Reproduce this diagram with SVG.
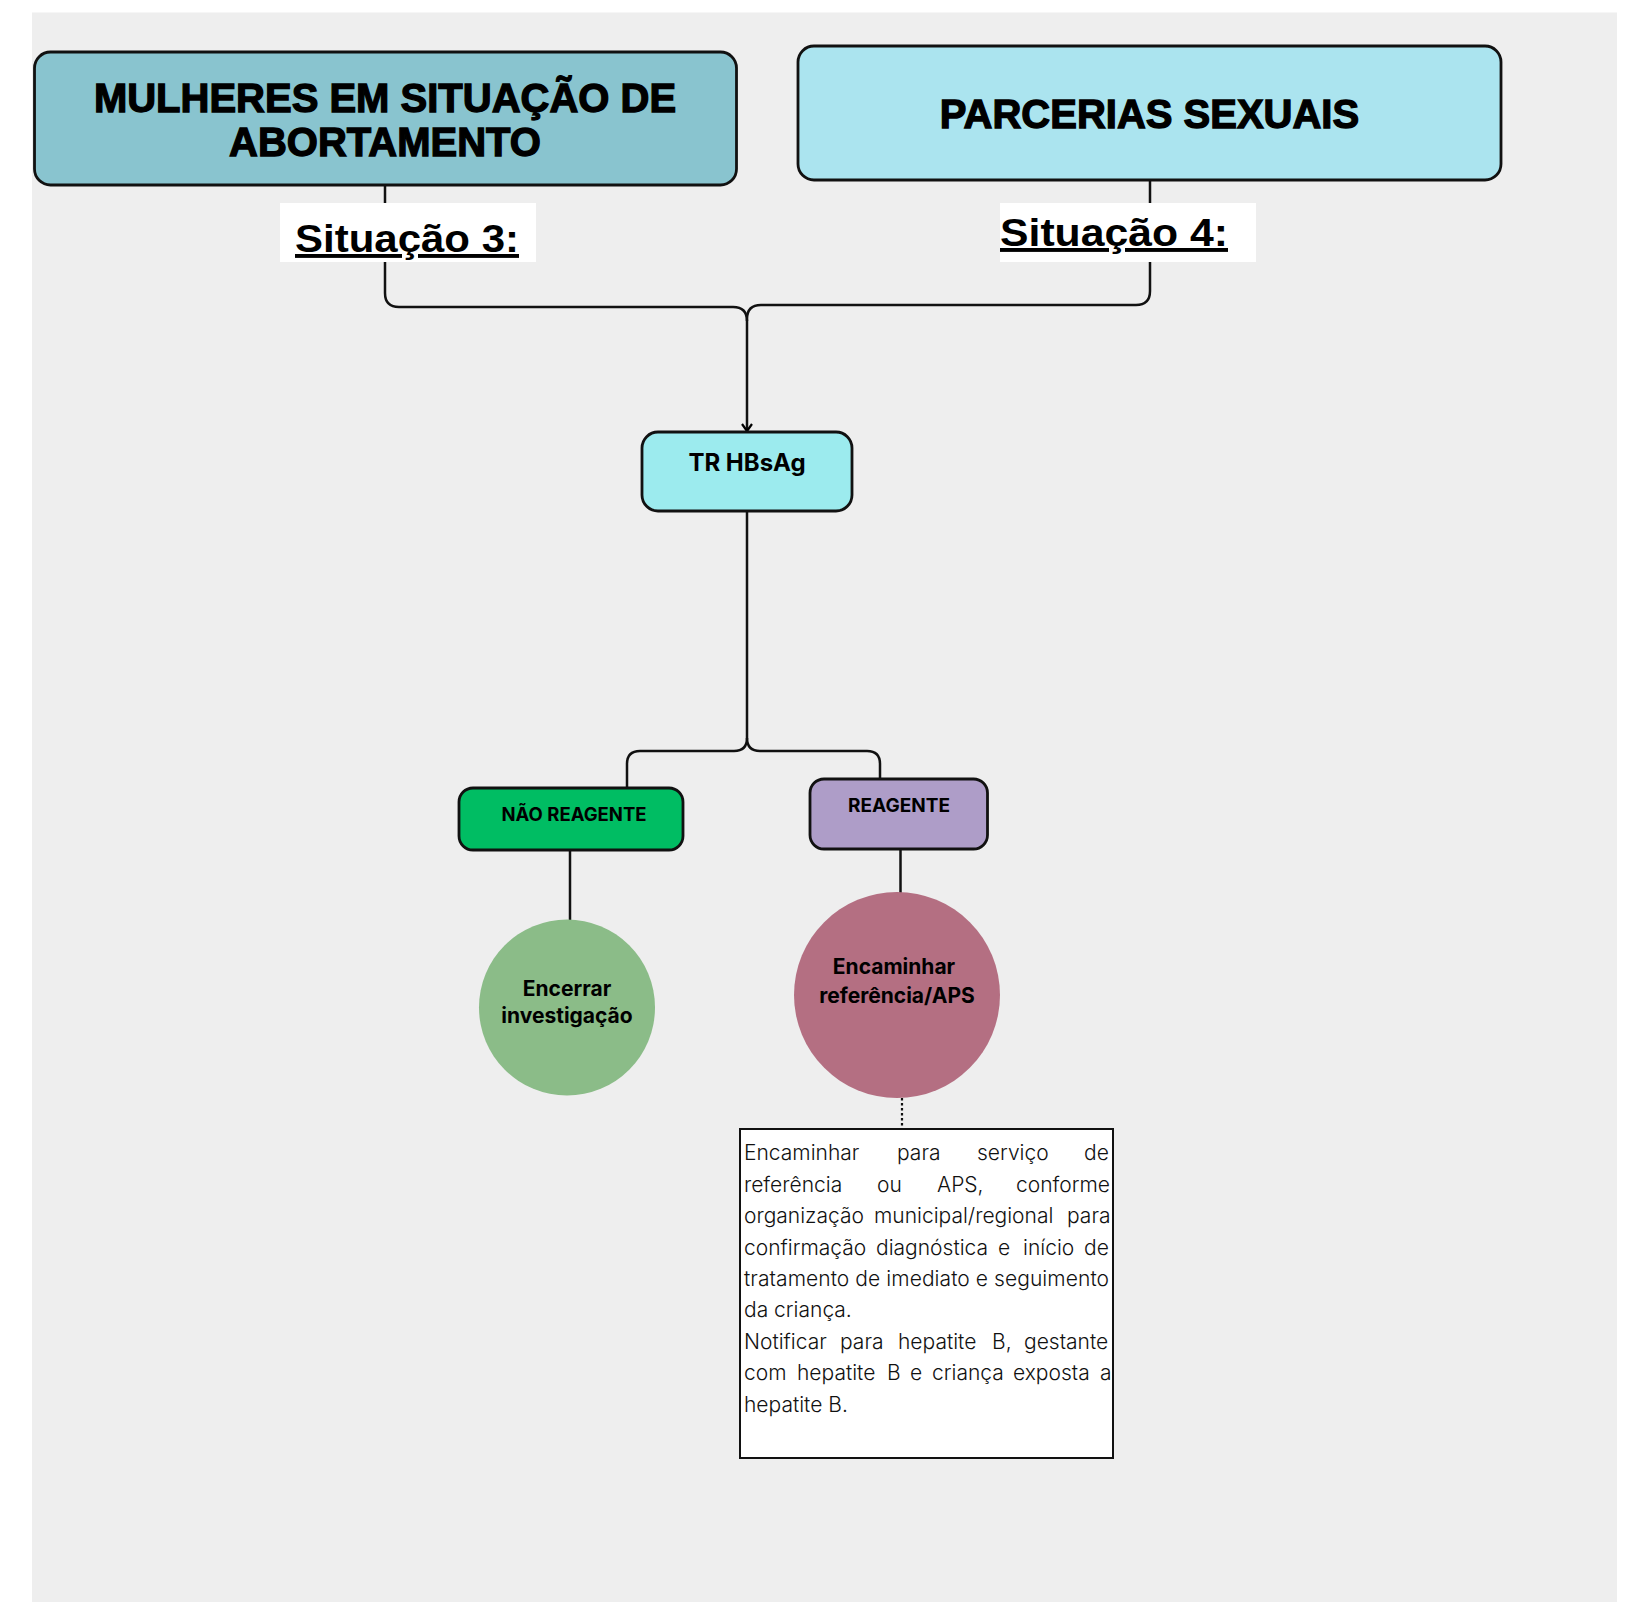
<svg xmlns="http://www.w3.org/2000/svg" width="1638" height="1602" viewBox="0 0 1638 1602">
  <defs>
    <marker id="arr" viewBox="0 0 12 12" refX="10" refY="6" markerWidth="12" markerHeight="12" markerUnits="userSpaceOnUse" orient="auto">
      <path d="M3,1 L10,6 L3,11" fill="none" stroke="#000" stroke-width="2.2"/>
    </marker>
    <style>
      .node{stroke:#111;stroke-width:2.8}
      .conn{fill:none;stroke:#111;stroke-width:2.5}
      .head{font-family:"Liberation Sans",Arial,sans-serif;font-weight:700;font-size:40px;fill:#000;stroke:#000;stroke-width:1.3;text-anchor:middle}
      .sit{font-family:"Liberation Sans",Arial,sans-serif;font-weight:700;font-size:39px;fill:#000;text-decoration:underline}
      .lbl{font-family:Inter,"Liberation Sans",sans-serif;font-weight:700;fill:#000;text-anchor:middle}
      .body{font-family:Inter,"Liberation Sans",sans-serif;font-weight:300;font-size:21px;fill:#111}
    </style>
  </defs>
  <rect x="0" y="0" width="1638" height="1602" fill="#ffffff"/>
  <rect x="32" y="12.5" width="1585" height="1590" fill="#eeeeee"/>

  <g id="connectors">
    <path class="conn" d="M385,185 V293 Q385,307 399,307 H733 Q747,307 747,321"/>
    <path class="conn" d="M1150,180 V291 Q1150,305 1136,305 H761 Q747,305 747,319"/>
    <path class="conn" d="M747,319 V431" marker-end="url(#arr)"/>
    <path class="conn" d="M747,511 V738 Q747,751 734,751 H640 Q627,751 627,764 V788"/>
    <path class="conn" d="M747,738 Q747,751 760,751 H867 Q880,751 880,764 V779"/>
    <path class="conn" d="M570,850 V920"/>
    <path class="conn" d="M900.5,849 V893"/>
    <path d="M902,1098 V1128" fill="none" stroke="#111" stroke-width="2.2" stroke-dasharray="2.5,2.5"/>
  </g>

  <g id="mulheres">
    <rect class="node" x="34.5" y="52" width="702" height="133" rx="16" fill="#89c4cf"/>
    <text class="head" x="385" y="112">MULHERES EM SITUAÇÃO DE</text>
    <text class="head" x="385" y="156">ABORTAMENTO</text>
  </g>

  <g id="parcerias">
    <rect class="node" x="798" y="46" width="703" height="134" rx="16" fill="#abe4ef"/>
    <text class="head" x="1149.5" y="128">PARCERIAS SEXUAIS</text>
  </g>

  <g id="situacao3">
    <rect x="280" y="203" width="256" height="59" fill="#ffffff"/>
    <text class="sit" x="295" y="252" textLength="224" lengthAdjust="spacingAndGlyphs">Situação 3:</text>
  </g>

  <g id="situacao4">
    <rect x="1000" y="203" width="256" height="59" fill="#ffffff"/>
    <text class="sit" x="1000" y="246" textLength="228" lengthAdjust="spacingAndGlyphs">Situação 4:</text>
  </g>

  <g id="tr-hbsag">
    <rect class="node" x="642" y="432" width="210" height="79" rx="16" fill="#9cebee"/>
    <text class="lbl" x="747" y="471" font-size="24">TR HBsAg</text>
  </g>

  <g id="nao-reagente">
    <rect class="node" x="459" y="788" width="224" height="62" rx="14" fill="#00bd63"/>
    <text class="lbl" x="574" y="821" font-size="18.5">NÃO REAGENTE</text>
  </g>

  <g id="reagente">
    <rect class="node" x="810" y="779" width="177.5" height="70" rx="14" fill="#ae9dc8"/>
    <text class="lbl" x="899" y="812" font-size="19">REAGENTE</text>
  </g>

  <g id="encerrar">
    <circle cx="567" cy="1007.5" r="88" fill="#8bbc88"/>
    <text class="lbl" x="567" y="996" font-size="21">Encerrar</text>
    <text class="lbl" x="567" y="1023" font-size="21">investigação</text>
  </g>

  <g id="encaminhar">
    <circle cx="897" cy="995" r="103" fill="#b46f82"/>
    <text class="lbl" x="894" y="974" font-size="21">Encaminhar</text>
    <text class="lbl" x="897" y="1003" font-size="21">referência/APS</text>
  </g>

  <g id="nota">
    <rect x="740" y="1129" width="373" height="329" fill="#ffffff" stroke="#111" stroke-width="2"/>
    <text class="body" y="1160"><tspan x="744">Encaminhar</tspan><tspan x="897">para</tspan><tspan x="977">serviço</tspan><tspan x="1084">de</tspan></text>
    <text class="body" y="1192"><tspan x="744">referência</tspan><tspan x="877">ou</tspan><tspan x="937">APS,</tspan><tspan x="1016">conforme</tspan></text>
    <text class="body" y="1223"><tspan x="744">organização</tspan><tspan x="874">municipal/regional</tspan><tspan x="1067">para</tspan></text>
    <text class="body" y="1255"><tspan x="744">confirmação</tspan><tspan x="876">diagnóstica</tspan><tspan x="998">e</tspan><tspan x="1023">início</tspan><tspan x="1084">de</tspan></text>
    <text class="body" x="744" y="1286" textLength="365" lengthAdjust="spacing">tratamento de imediato e seguimento</text>
    <text class="body" x="744" y="1317">da criança.</text>
    <text class="body" y="1349"><tspan x="744">Notificar</tspan><tspan x="840">para</tspan><tspan x="898">hepatite</tspan><tspan x="992">B,</tspan><tspan x="1024">gestante</tspan></text>
    <text class="body" y="1380"><tspan x="744">com</tspan><tspan x="797">hepatite</tspan><tspan x="887">B</tspan><tspan x="910">e</tspan><tspan x="932">criança</tspan><tspan x="1013">exposta</tspan><tspan x="1100">a</tspan></text>
    <text class="body" x="744" y="1412">hepatite B.</text>
  </g>
</svg>
